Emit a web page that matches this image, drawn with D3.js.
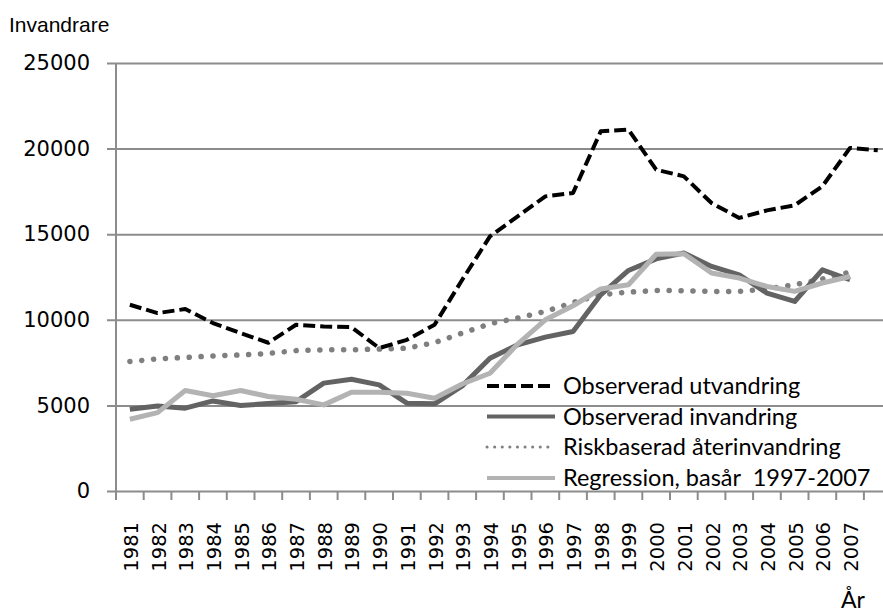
<!DOCTYPE html>
<html>
<head>
    <meta charset="utf-8">
    <title>Invandrare</title>
    <script type="text/javascript" src="https://cdn.jsdelivr.net/npm/d3@7"></script>
    <style>
        body { margin: 0; background: #fff; }
        svg { display: block; }
    </style>
</head>
<body>
<script type="text/javascript">
var years = [1981, 1982, 1983, 1984, 1985, 1986, 1987, 1988, 1989, 1990, 1991, 1992, 1993, 1994,
    1995, 1996, 1997, 1998, 1999, 2000, 2001, 2002, 2003, 2004, 2005, 2006, 2007, 2008];

var utvandring = [10880, 10390, 10630, 9810, 9220, 8660, 9710, 9610, 9570, 8350, 8830, 9710, 12340, 14870,
    16040, 17210, 17410, 21010, 21110, 18770, 18380, 16820, 15950, 16390, 16690, 17800, 20040, 19900];
var invandring = [4780, 4970, 4840, 5260, 4990, 5110, 5220, 6300, 6530, 6200, 5130, 5090, 6140, 7760,
    8540, 8990, 9320, 11460, 12880, 13560, 13900, 13120, 12630, 11560, 11070, 12920, 12340];
var aterinvandring = [7560, 7720, 7800, 7890, 7950, 8030, 8200, 8250, 8250, 8290, 8340, 8670, 9220, 9770,
    10100, 10490, 11010, 11460, 11620, 11710, 11700, 11660, 11660, 11800, 12050, 12380, 12790];
var regression = [4190, 4580, 5870, 5560, 5870, 5520, 5360, 5030, 5770, 5770, 5710, 5420, 6250, 6880,
    8580, 10000, 10820, 11800, 12050, 13830, 13860, 12730, 12440, 11950, 11660, 12150, 12530];

var yTicks = [0, 5000, 10000, 15000, 20000, 25000];
var labelYears = years.slice(0, 27);

var seriesNames = ["Observerad utvandring", "Observerad invandring",
    "Riskbaserad återinvandring", "Regression, basår  1997-2007"];

var width = 883, height = 614;
var left = 116, bandW = 27.7, yBottom = 491, yTop = 63;

var svg = d3.select("body").append("svg")
        .attr("width", width)
        .attr("height", height);

svg.append("rect").attr("width", width).attr("height", height).attr("fill", "#fff");

var x = d3.scaleBand()
        .domain(years)
        .range([left, left + years.length * bandW])
        .padding(0);

var y = d3.scaleLinear()
        .domain([0, 25000])
        .range([yBottom, yTop]);

function cx(i) {
    return x(years[i]) + x.bandwidth() / 2;
}

// grid lines + y labels
var yAxis = d3.axisLeft(y)
        .tickValues(yTicks)
        .tickSize(-(width - left + 10))
        .tickPadding(26)
        .tickFormat(d3.format("d"));

var yG = svg.append("g")
        .attr("transform", "translate(" + left + ",0)")
        .call(yAxis);

yG.select(".domain").remove();
yG.selectAll(".tick line")
        .attr("x1", -9)
        .attr("stroke", "#8c8c8c")
        .attr("stroke-width", 2);
yG.selectAll(".tick text")
        .attr("font-family", "DejaVu Sans, Verdana, sans-serif")
        .attr("font-size", 21)
        .attr("fill", "#000");

// vertical axis line
svg.append("line")
        .attr("x1", left).attr("x2", left)
        .attr("y1", y(25000)).attr("y2", yBottom + 9)
        .attr("stroke", "#8c8c8c")
        .attr("stroke-width", 2);

// category ticks at band edges
var edges = years.map(function (d) { return x(d); });
edges.push(x(years[years.length - 1]) + x.bandwidth());
svg.append("g").selectAll("line")
        .data(edges)
        .enter().append("line")
        .attr("x1", function (d) { return d; })
        .attr("x2", function (d) { return d; })
        .attr("y1", yBottom)
        .attr("y2", yBottom + 9)
        .attr("stroke", "#8c8c8c")
        .attr("stroke-width", 2);

// year labels
var xAxis = d3.axisBottom(x)
        .tickValues(labelYears)
        .tickSize(0)
        .tickPadding(0);

var xG = svg.append("g")
        .attr("transform", "translate(0," + yBottom + ")")
        .call(xAxis);
xG.select(".domain").remove();
xG.selectAll(".tick text")
        .attr("font-family", "DejaVu Sans, Verdana, sans-serif")
        .attr("font-size", 19.5)
        .attr("fill", "#000")
        .attr("transform", "rotate(-90)")
        .attr("text-anchor", "end")
        .attr("dy", "0.36em")
        .attr("x", -31)
        .attr("y", 1);

// lines
var line = d3.line()
        .defined(function (d) { return d != null; })
        .x(function (d, i) { return cx(i); })
        .y(function (d) { return y(d); });

var styles = [
    {data: utvandring, color: "#000", width: 4, dash: "12,5", cap: "butt"},
    {data: invandring, color: "#636363", width: 5, dash: null, cap: "butt"},
    {data: aterinvandring, color: "#7f7f7f", width: 5.5, dash: "0.1,11.8", cap: "round"},
    {data: regression, color: "#b3b3b3", width: 5, dash: null, cap: "butt"}
];

var drawOrder = [2, 0, 1, 3];
drawOrder.forEach(function (k) {
    var s = styles[k];
    svg.append("path")
            .datum(s.data)
            .attr("fill", "none")
            .attr("stroke", s.color)
            .attr("stroke-width", s.width)
            .attr("stroke-dasharray", s.dash)
            .attr("stroke-linecap", s.cap)
            .attr("stroke-linejoin", "round")
            .attr("d", line);
});

// legend
var legend = svg.append("g");
var rowY = [386, 416.5, 447, 478];
seriesNames.forEach(function (name, i) {
    var s = styles[i];
    legend.append("line")
            .attr("x1", 487).attr("x2", 555)
            .attr("y1", rowY[i]).attr("y2", rowY[i])
            .attr("stroke", s.color)
            .attr("stroke-width", i == 2 ? 3 : 4)
            .attr("stroke-dasharray", i == 0 ? "12,5" : (i == 2 ? "0.1,7.5" : null))
            .attr("stroke-linecap", i == 2 ? "round" : "butt");
    legend.append("text")
            .attr("x", 563)
            .attr("y", rowY[i])
            .attr("dy", "0.36em")
            .attr("font-family", "Lato, Open Sans, sans-serif")
            .attr("font-size", 23.5)
            .attr("fill", "#000")
            .attr("xml:space", "preserve")
            .text(name);
});

// axis titles
svg.append("text")
        .attr("x", 9)
        .attr("y", 32)
        .attr("font-family", "Liberation Sans, Arial, sans-serif")
        .attr("font-size", 21)
        .attr("fill", "#000")
        .text("Invandrare");

svg.append("text")
        .attr("x", 841)
        .attr("y", 608)
        .attr("font-family", "Lato, Open Sans, sans-serif")
        .attr("font-size", 23)
        .attr("fill", "#000")
        .text("År");
</script>
</body>
</html>
